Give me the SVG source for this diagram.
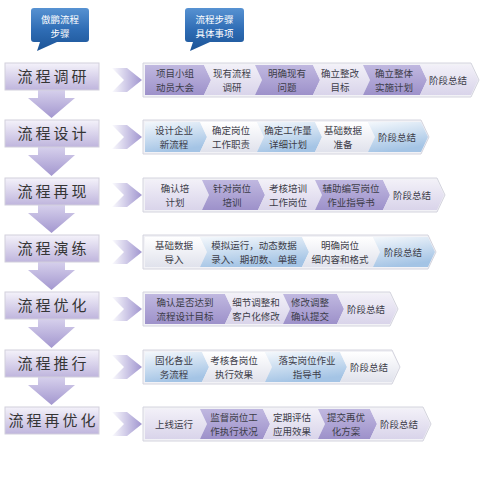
<svg xmlns="http://www.w3.org/2000/svg" width="480" height="480" viewBox="0 0 480 480">
<defs>
<linearGradient id="gCall" x1="0" y1="0" x2="0" y2="1"><stop offset="0" stop-color="#5792d2"/><stop offset="0.5" stop-color="#2f6db5"/><stop offset="1" stop-color="#1b5396"/></linearGradient>
<linearGradient id="gBox" x1="0" y1="0" x2="0" y2="1"><stop offset="0" stop-color="#f4f2fa"/><stop offset="1" stop-color="#bfb5dd"/></linearGradient>
<linearGradient id="gDown" x1="0" y1="0" x2="0" y2="1"><stop offset="0" stop-color="#d6d0ec"/><stop offset="1" stop-color="#a397cf"/></linearGradient>
<linearGradient id="gChev" x1="0" y1="0" x2="1" y2="0"><stop offset="0" stop-color="#fbfbfe"/><stop offset="1" stop-color="#a095cf"/></linearGradient>
<linearGradient id="gPur" x1="0" y1="0" x2="0" y2="1"><stop offset="0" stop-color="#c0b8e0"/><stop offset="1" stop-color="#9d91ca"/></linearGradient>
<linearGradient id="gLav" x1="0" y1="0" x2="0" y2="1"><stop offset="0" stop-color="#f2f0f8"/><stop offset="1" stop-color="#d9d4ea"/></linearGradient>
<linearGradient id="gBlue" x1="0" y1="0" x2="0.3" y2="1"><stop offset="0" stop-color="#f4f8fc"/><stop offset="1" stop-color="#a4c4e5"/></linearGradient>
<linearGradient id="gWhite" x1="0" y1="0" x2="0" y2="1"><stop offset="0" stop-color="#ffffff"/><stop offset="1" stop-color="#e0e2ec"/></linearGradient>
</defs>
<style>
text{font-family:"Noto Sans CJK SC","Noto Sans",sans-serif;}
.call{fill:url(#gCall);}
.ct{fill:#ffffff;font-size:9.5px;text-anchor:middle;}
.box{fill:url(#gBox);stroke:#d2cfdc;stroke-width:1;}
.bt{fill:#353535;font-size:15px;letter-spacing:3px;text-anchor:middle;}
.down{fill:url(#gDown);}
.chev{fill:url(#gChev);}
.band{fill:#f2f2f6;stroke:#d4d4de;stroke-width:1;}
.p{fill:url(#gPur);}
.l{fill:url(#gLav);}
.b{fill:url(#gBlue);}
.w{fill:url(#gWhite);}
.st{fill:#3c3c48;font-size:9.5px;text-anchor:middle;}
</style>

<g id="callout-left">
<path class="call" d="M34,8 H86 Q89,8 89,11 V39 Q89,42 86,42 H57 L37,51 L40,42 H34 Q31,42 31,39 V11 Q31,8 34,8 Z"/>
<text class="ct" x="60" y="23">傲鹏流程</text>
<text class="ct" x="60" y="37">步骤</text>
</g>
<g id="callout-right">
<path class="call" d="M188,8 H241 Q244,8 244,11 V39 Q244,42 241,42 H210 L190,51 L193,42 H188 Q185,42 185,39 V11 Q185,8 188,8 Z"/>
<text class="ct" x="214.5" y="23">流程步骤</text>
<text class="ct" x="214.5" y="37">具体事项</text>
</g>

<g id="connectors">
<path class="down" d="M38,90 H65 V98 H75 L51.5,118 L28,98 H38 Z"/>
<path class="down" d="M38,147 H65 V155 H75 L51.5,176 L28,155 H38 Z"/>
<path class="down" d="M38,205 H65 V213 H75 L51.5,233 L28,213 H38 Z"/>
<path class="down" d="M38,262 H65 V270 H75 L51.5,290 L28,270 H38 Z"/>
<path class="down" d="M38,319 H65 V327 H75 L51.5,348 L28,327 H38 Z"/>
<path class="down" d="M38,377 H65 V385 H75 L51.5,405 L28,385 H38 Z"/>
<polygon class="chev" points="112,68 127,68 142,80 127,92 112,92 124,80"/>
<polygon class="chev" points="112,125 127,125 142,137 127,149 112,149 124,137"/>
<polygon class="chev" points="112,183 127,183 142,195 127,207 112,207 124,195"/>
<polygon class="chev" points="112,240 127,240 142,252 127,264 112,264 124,252"/>
<polygon class="chev" points="112,297 127,297 142,309 127,321 112,321 124,309"/>
<polygon class="chev" points="112,355 127,355 142,367 127,379 112,379 124,367"/>
<polygon class="chev" points="112,412 127,412 142,424 127,436 112,436 124,424"/>
</g>

<g id="step1">
<rect class="box" x="5" y="63" width="94" height="27"/>
<text class="bt" x="53.5" y="82">流程调研</text>
</g>
<g id="step2">
<rect class="box" x="5" y="120" width="94" height="27"/>
<text class="bt" x="53.5" y="139">流程设计</text>
</g>
<g id="step3">
<rect class="box" x="5" y="178" width="94" height="27"/>
<text class="bt" x="53.5" y="197">流程再现</text>
</g>
<g id="step4">
<rect class="box" x="5" y="235" width="94" height="27"/>
<text class="bt" x="53.5" y="254">流程演练</text>
</g>
<g id="step5">
<rect class="box" x="5" y="292" width="94" height="27"/>
<text class="bt" x="53.5" y="311">流程优化</text>
</g>
<g id="step6">
<rect class="box" x="5" y="350" width="94" height="27"/>
<text class="bt" x="53.5" y="369">流程推行</text>
</g>
<g id="step7">
<rect class="box" x="5" y="407" width="94" height="27"/>
<text class="bt" x="53.5" y="426">流程再优化</text>
</g>

<g id="band1">
<polygon class="band" points="143,63 471,63 479,80 471,97 143,97"/>
<polygon class="p" points="145,65 204,65 211,80 204,95 145,95"/>
<polygon class="l" points="204,65 255,65 262,80 255,95 204,95 211,80"/>
<polygon class="p" points="255,65 313,65 320,80 313,95 255,95 262,80"/>
<polygon class="l" points="313,65 363,65 370,80 363,95 313,95 320,80"/>
<polygon class="p" points="363,65 420,65 427,80 420,95 363,95 370,80"/>
<polygon class="l" points="420,65 471,65 478,80 471,95 420,95 427,80"/>
<text class="st" x="175" y="76.5">项目小组</text><text class="st" x="175" y="90.5">动员大会</text>
<text class="st" x="232" y="76.5">现有流程</text><text class="st" x="232" y="90.5">调研</text>
<text class="st" x="287" y="76.5">明确现有</text><text class="st" x="287" y="90.5">问题</text>
<text class="st" x="340" y="76.5">确立整改</text><text class="st" x="340" y="90.5">目标</text>
<text class="st" x="394" y="76.5">确立整体</text><text class="st" x="394" y="90.5">实施计划</text>
<text class="st" x="448" y="83.5">阶段总结</text>
</g>

<g id="band2">
<polygon class="band" points="143,120 421,120 429,137 421,154 143,154"/>
<polygon class="b" points="145,122 200,122 207,137 200,152 145,152"/>
<polygon class="w" points="200,122 257,122 264,137 257,152 200,152 207,137"/>
<polygon class="b" points="257,122 315,122 322,137 315,152 257,152 264,137"/>
<polygon class="w" points="315,122 368,122 375,137 368,152 315,152 322,137"/>
<polygon class="b" points="368,122 421,122 428,137 421,152 368,152 375,137"/>
<text class="st" x="174" y="133.5">设计企业</text><text class="st" x="174" y="147.5">新流程</text>
<text class="st" x="231" y="133.5">确定岗位</text><text class="st" x="231" y="147.5">工作职责</text>
<text class="st" x="288" y="133.5">确定工作量</text><text class="st" x="288" y="147.5">详细计划</text>
<text class="st" x="343" y="133.5">基础数据</text><text class="st" x="343" y="147.5">准备</text>
<text class="st" x="397" y="140.5">阶段总结</text>
</g>

<g id="band3">
<polygon class="band" points="143,178 437,178 445,195 437,212 143,212"/>
<polygon class="l" points="145,180 202,180 209,195 202,210 145,210"/>
<polygon class="p" points="202,180 258,180 265,195 258,210 202,210 209,195"/>
<polygon class="l" points="258,180 315,180 322,195 315,210 258,210 265,195"/>
<polygon class="p" points="315,180 383,180 390,195 383,210 315,210 322,195"/>
<polygon class="l" points="383,180 437,180 444,195 437,210 383,210 390,195"/>
<text class="st" x="175" y="191.5">确认培</text><text class="st" x="175" y="205.5">计划</text>
<text class="st" x="232" y="191.5">针对岗位</text><text class="st" x="232" y="205.5">培训</text>
<text class="st" x="288" y="191.5">考核培训</text><text class="st" x="288" y="205.5">工作岗位</text>
<text class="st" x="351" y="191.5">辅助编写岗位</text><text class="st" x="351" y="205.5">作业指导书</text>
<text class="st" x="412" y="198.5">阶段总结</text>
</g>

<g id="band4">
<polygon class="band" points="143,235 428,235 436,252 428,269 143,269"/>
<polygon class="w" points="145,237 200,237 207,252 200,267 145,267"/>
<polygon class="b" points="200,237 302,237 309,252 302,267 200,267 207,252"/>
<polygon class="w" points="302,237 373,237 380,252 373,267 302,267 309,252"/>
<polygon class="b" points="373,237 428,237 435,252 428,267 373,267 380,252"/>
<text class="st" x="174" y="248.5">基础数据</text><text class="st" x="174" y="262.5">导入</text>
<text class="st" x="254" y="248.5">模拟运行，动态数据</text><text class="st" x="254" y="262.5">录入、期初数、单据</text>
<text class="st" x="340" y="248.5">明确岗位</text><text class="st" x="340" y="262.5">细内容和格式</text>
<text class="st" x="403" y="255.5">阶段总结</text>
</g>

<g id="band5">
<polygon class="band" points="143,292 390,292 398,309 390,326 143,326"/>
<polygon class="p" points="145,294 225,294 232,309 225,324 145,324"/>
<polygon class="l" points="225,294 283,294 290,309 283,324 225,324 232,309"/>
<polygon class="p" points="283,294 337,294 344,309 337,324 283,324 290,309"/>
<polygon class="l" points="337,294 390,294 397,309 390,324 337,324 344,309"/>
<text class="st" x="185" y="305.5">确认是否达到</text><text class="st" x="185" y="319.5">流程设计目标</text>
<text class="st" x="256" y="305.5">细节调整和</text><text class="st" x="256" y="319.5">客户化修改</text>
<text class="st" x="310" y="305.5">修改调整</text><text class="st" x="310" y="319.5">确认提交</text>
<text class="st" x="366" y="312.5">阶段总结</text>
</g>

<g id="band6">
<polygon class="band" points="143,350 392,350 400,367 392,384 143,384"/>
<polygon class="b" points="145,352 202,352 209,367 202,382 145,382"/>
<polygon class="w" points="202,352 265,352 272,367 265,382 202,382 209,367"/>
<polygon class="b" points="265,352 340,352 347,367 340,382 265,382 272,367"/>
<polygon class="w" points="340,352 392,352 399,367 392,382 340,382 347,367"/>
<text class="st" x="174" y="363.5">固化各业</text><text class="st" x="174" y="377.5">务流程</text>
<text class="st" x="234" y="363.5">考核各岗位</text><text class="st" x="234" y="377.5">执行效果</text>
<text class="st" x="307" y="363.5">落实岗位作业</text><text class="st" x="307" y="377.5">指导书</text>
<text class="st" x="369" y="370.5">阶段总结</text>
</g>

<g id="band7">
<polygon class="band" points="143,407 423,407 431,424 423,441 143,441"/>
<polygon class="l" points="145,409 200,409 207,424 200,439 145,439"/>
<polygon class="p" points="200,409 263,409 270,424 263,439 200,439 207,424"/>
<polygon class="l" points="263,409 318,409 325,424 318,439 263,439 270,424"/>
<polygon class="p" points="318,409 370,409 377,424 370,439 318,439 325,424"/>
<polygon class="l" points="370,409 423,409 430,424 423,439 370,439 377,424"/>
<text class="st" x="174" y="427.5">上线运行</text>
<text class="st" x="234" y="420.5">监督岗位工</text><text class="st" x="234" y="434.5">作执行状况</text>
<text class="st" x="292" y="420.5">定期评估</text><text class="st" x="292" y="434.5">应用效果</text>
<text class="st" x="346" y="420.5">提交再优</text><text class="st" x="346" y="434.5">化方案</text>
<text class="st" x="399" y="427.5">阶段总结</text>
</g>
</svg>
